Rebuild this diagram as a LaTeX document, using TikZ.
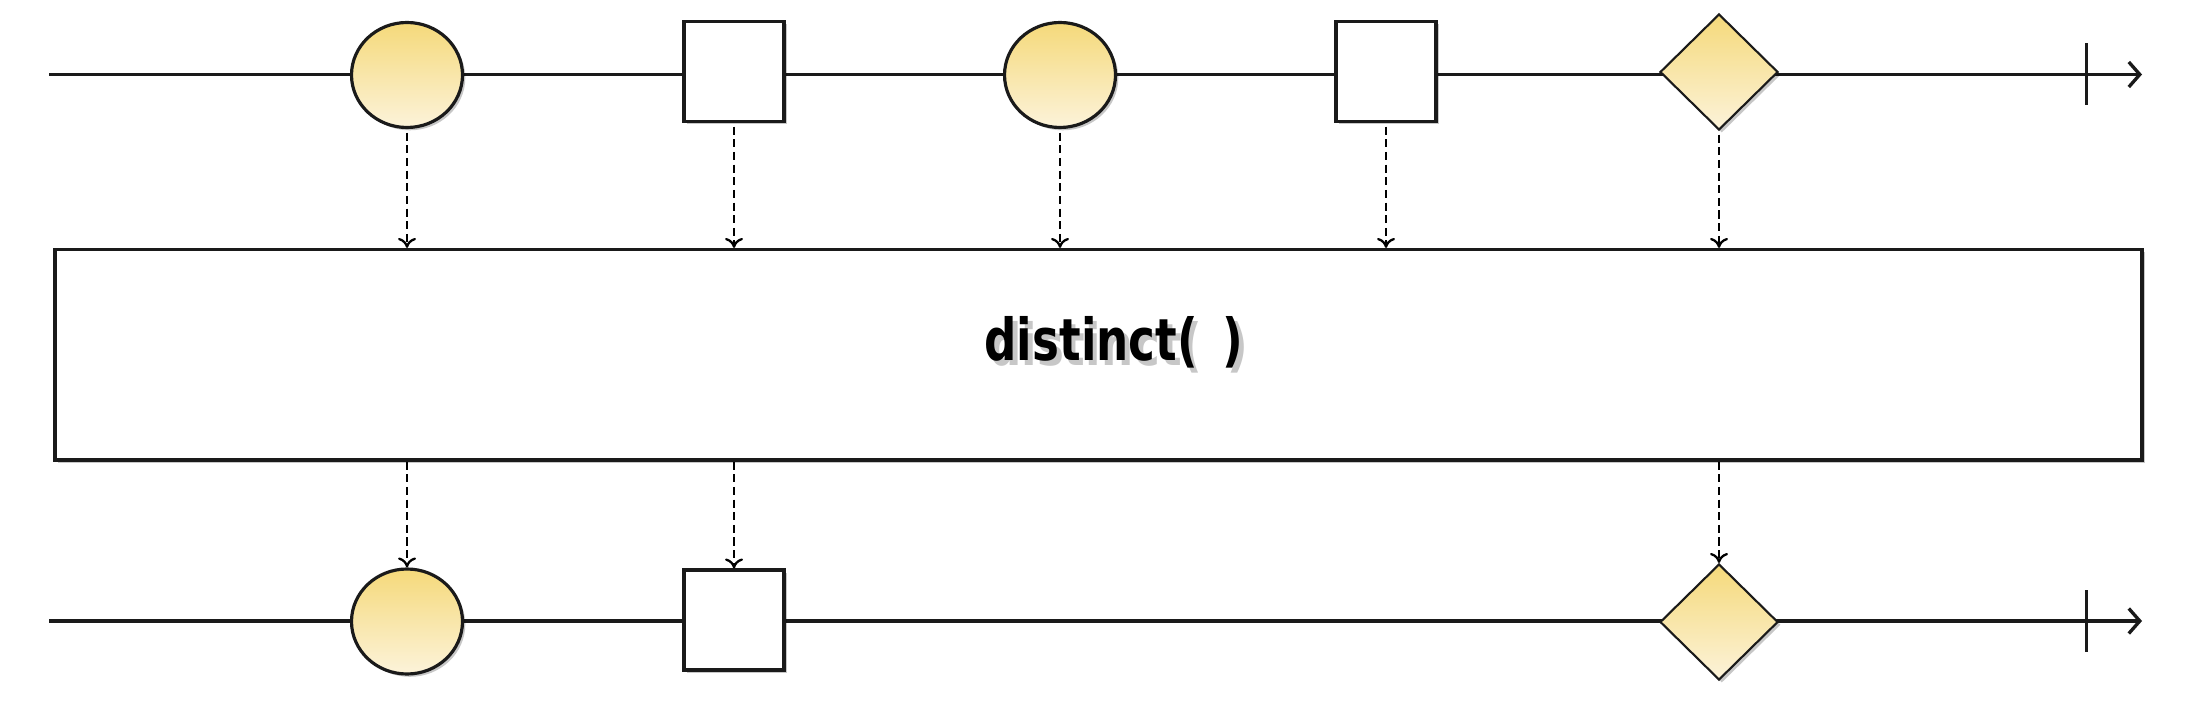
\documentclass[tikz,border=0pt]{standalone}
\usepackage{fontspec}
\usepackage{graphicx}
\usepackage{tikz}
\usetikzlibrary{arrows.meta,positioning,shapes.geometric,shadows}
\newfontfamily\opfont{DejaVu Sans}
\definecolor{ink}{HTML}{1A1A1A}
\definecolor{marbletop}{HTML}{F5D97A}
\definecolor{marblebot}{HTML}{FCF3DA}
\newcommand{\shadowed}[1]{\makebox[0pt][l]{\hspace{1.3pt}\raisebox{-1.3pt}{\textcolor{black!22}{#1}}}#1}
\tikzset{
  timeline/.style={line width=0.95pt, draw=ink, -{Straight Barb[length=1.1mm,width=2.5mm]}},
  tickmark/.style={line width=0.85pt, draw=ink},
  softshadow/.style={drop shadow={shadow xshift=0.8pt, shadow yshift=-0.8pt, opacity=0.22, fill=black}},
  marble/.style={
    draw=ink, line width=0.9pt, inner sep=0pt,
    top color=marbletop, bottom color=marblebot, softshadow
  },
  circmarble/.style={marble, ellipse, minimum width=1.11cm, minimum height=1.05cm},
  diamarble/.style={marble, diamond, line width=0.6pt, minimum width=1.18cm, minimum height=1.16cm},
  sqmarble/.style={
    rectangle, draw=ink, line width=0.9pt, fill=white, inner sep=0pt,
    minimum size=1.0cm, softshadow
  },
  opbox/.style={
    rectangle, draw=ink, line width=0.9pt, fill=white,
    minimum width=20.87cm, minimum height=2.105cm, softshadow
  },
  oplabel/.style={font=\opfont\bfseries\fontsize{16.5}{18}\selectfont, inner sep=0pt},
  emitarrow/.style={line width=0.65pt, dash pattern=on 2.3pt off 1.3pt, -{To[length=1mm,width=1.8mm]}},
}

\begin{document}
\begin{tikzpicture}
  \useasboundingbox (0,0) rectangle (21.98,7.10);

  % time lines
  \coordinate (tstart) at (0.49,6.355);
  \coordinate (tend) at (21.42,6.355);
  \coordinate (ttick) at (20.86,6.355);
  \coordinate (bstart) at (0.49,0.89);
  \coordinate (bend) at (21.42,0.89);
  \coordinate (btick) at (20.86,0.89);
  \draw[timeline] (tstart) -- (tend);
  \draw[timeline] (bstart) -- (bend);
  \draw[tickmark] ([yshift=0.31cm]ttick) -- ([yshift=-0.31cm]ttick);
  \draw[tickmark] ([yshift=0.31cm]btick) -- ([yshift=-0.31cm]btick);

  % source items
  \node[circmarble] (t1) at (4.07,6.35) {};
  \node[sqmarble] (t2) at (7.34,6.385) {};
  \node[circmarble] (t3) at (10.60,6.35) {};
  \node[sqmarble] (t4) at (13.86,6.385) {};
  \node[diamarble] (t5) at (17.19,6.38) {};

  % operator
  \node[opbox] (op) at (10.985,3.5525) {};
  \node[oplabel] (opname) at (11.14,3.65) {\shadowed{\scalebox{0.78}[1]{distinct(\hspace{0.32cm})}}};

  % result items
  \node[circmarble] (b1) at (4.07,0.885) {};
  \node[sqmarble] (b2) at (7.34,0.90) {};
  \node[diamarble] (b5) at (17.19,0.88) {};

  \foreach \s in {t1,t2,t3,t4,t5}
    \draw[emitarrow] ([yshift=-1pt]\s.south) -- (\s.south |- op.north);
  \foreach \r in {b1,b2,b5}
    \draw[emitarrow] (op.south -| \r) -- (\r.north);
\end{tikzpicture}
\end{document}
